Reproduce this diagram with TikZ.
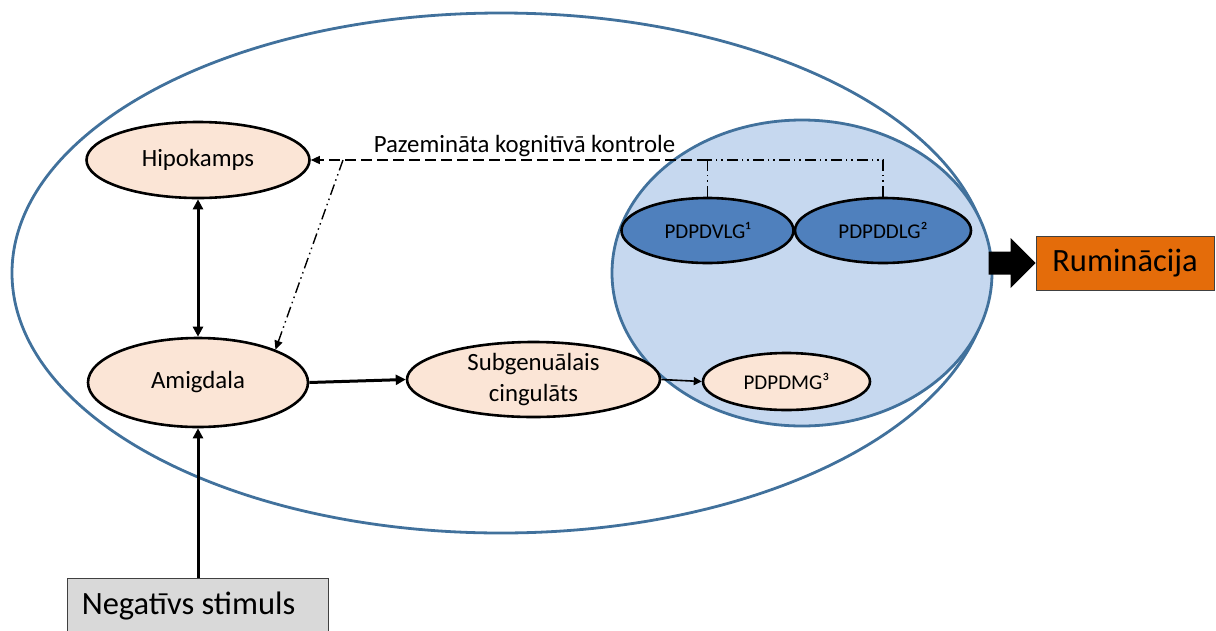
\documentclass[tikz,border=0pt]{standalone}
\usepackage{fontspec}
\setmainfont{Carlito}
\usetikzlibrary{arrows.meta,shapes.geometric}
\definecolor{regionline}{HTML}{41719C}
\definecolor{regionfill}{HTML}{C6D8EF}
\definecolor{pfcfill}{HTML}{4F80BD}
\definecolor{nodefill}{HTML}{FBE5D6}
\definecolor{rumfill}{HTML}{E46C0A}
\definecolor{stimfill}{HTML}{D9D9D9}
\begin{document}
\begin{tikzpicture}[x=1pt,y=-1pt,
  region/.style={ellipse, draw=regionline, line width=2.8pt, inner sep=0pt},
  brainnode/.style={ellipse, draw=black, line width=2.6pt, fill=nodefill, inner sep=0pt, align=center, font=\fontsize{24.8}{31}\selectfont},
  pfcnode/.style={ellipse, draw=black, line width=2.6pt, fill=pfcfill, inner sep=0pt, font=\fontsize{21}{25}\selectfont},
  bigbox/.style={rectangle, draw=black!75, line width=1pt, inner sep=0pt, font=\fontsize{32.5}{38}\selectfont},
  thickarrow/.style={line width=3pt, -{Triangle[length=10pt,width=10pt]}},
  thinarrow/.style={line width=1.6pt, -{Triangle[length=8pt,width=8pt]}},
  longdash/.style={line width=1.4pt, dash pattern=on 11pt off 5pt},
  dashdotdot/.style={line width=1.4pt, dash pattern=on 11pt off 4pt on 1.5pt off 4pt on 1.5pt off 4pt},
  tipend/.style={-{Triangle[length=9pt,width=8pt]}}
]
\useasboundingbox (0,0) rectangle (1216,630);

% regions
\node[region, minimum width=978pt, minimum height=520pt] (brain) at (501,273) {};
\node[region, fill=regionfill, minimum width=380pt, minimum height=306pt] (pfc) at (802,273) {};

% nodes
\node[brainnode, minimum width=223pt, minimum height=76pt] (hip) at (198,160) {Hipokamps};
\node[brainnode, minimum width=220pt, minimum height=89pt] (amy) at (198,382.5) {Amigdala};
\node[brainnode, minimum width=253pt, minimum height=75pt] (sub) at (533.5,379.5) {Subgenuālais\\cingulāts};
\node[brainnode, minimum width=167pt, minimum height=57pt, font=\fontsize{21}{25}\selectfont] (mg) at (786.5,381.5) {PDPDMG³};
\node[pfcnode, minimum width=172pt, minimum height=65pt] (dv) at (707.5,230.5) {PDPDVLG¹};
\node[pfcnode, minimum width=176pt, minimum height=65pt] (dd) at (883,230.5) {PDPDDLG²};

\node[bigbox, fill=rumfill, minimum width=178pt, minimum height=54pt] (rum) at (1125,263) {Ruminācija};
\node[bigbox, fill=stimfill, minimum width=261pt, minimum height=56pt] (stim) at (198,606) {Negatīvs stimuls\kern 19pt};

\node[anchor=base, inner sep=0pt, font=\fontsize{24.8}{30}\selectfont] (lbl) at (524.5,152) {Pazemināta kognitīvā kontrole};

% connectors
\draw[thickarrow] (stim.north) -- (amy.south);
\draw[line width=3pt, {Triangle[length=10pt,width=10pt]}-{Triangle[length=10pt,width=10pt]}] (hip.south) -- (amy.north);
\draw[thickarrow] (amy.east) -- (sub.west);
\draw[thinarrow] (sub.east) -- (mg.west);

\coordinate (j1) at (dv.north |- hip.east);
\coordinate (j2) at (dd.north |- hip.east);
\coordinate (j0) at (343,160);
\draw[dashdotdot] (dv.north) -- (j1);
\draw[dashdotdot] (dd.north) -- (j2) -- (j1);
\draw[longdash, tipend] (j1) -- (hip.east);
\draw[dashdotdot, tipend] (j0) -- (amy.23);

% block arrow from prefrontal region to rumination
\fill[black] (rum.west) -- ++(-25,-25) -- ++(0,13.5) -- ++(-22,0) -- ++(0,23) -- ++(22,0) -- ++(0,13.5) -- cycle;
\end{tikzpicture}
\end{document}
